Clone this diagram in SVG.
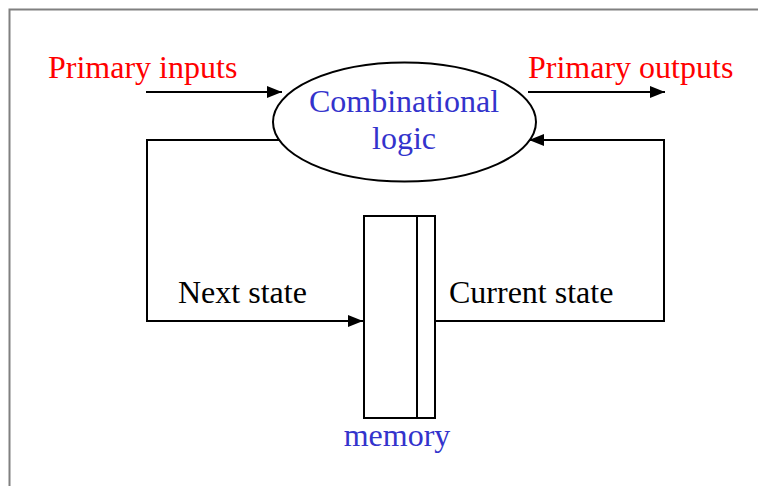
<svg xmlns="http://www.w3.org/2000/svg" width="758" height="486" viewBox="0 0 758 486">
  <defs>
    <marker id="arrow" viewBox="0 0 15 12" refX="15" refY="6" markerWidth="15" markerHeight="12" markerUnits="userSpaceOnUse" orient="auto">
      <path d="M0,0 L15,6 L0,12 Z" fill="#000"/>
    </marker>
  </defs>
  <style>
    text { font-family: "Liberation Serif", "Times New Roman", serif; font-size: 32px; }
    .red { fill: #ff0000; }
    .blue { fill: #3333cc; }
    .black { fill: #000; }
    .wire { fill: none; stroke: #000; stroke-width: 2; }
    .shape { fill: #fff; stroke: #000; stroke-width: 2; }
  </style>
  <rect x="0" y="0" width="758" height="486" fill="#fff"/>
  <!-- frame -->
  <path d="M9.5,486 V9.5 H758" fill="none" stroke="#808080" stroke-width="2"/>

  <g id="connectors">
    <line class="wire" x1="146" y1="92" x2="282" y2="92" marker-end="url(#arrow)"/>
    <line class="wire" x1="528" y1="92" x2="665" y2="92" marker-end="url(#arrow)"/>
    <polyline class="wire" points="282,140 147,140 147,321 363,321" marker-end="url(#arrow)"/>
    <polyline class="wire" points="435,321 664,321 664,140 529,140" marker-end="url(#arrow)"/>
  </g>

  <g id="logic">
    <ellipse class="shape" cx="404.5" cy="122" rx="131.5" ry="59.5"/>
    <text class="blue" x="404" y="112" text-anchor="middle">Combinational</text>
    <text class="blue" x="404" y="149" text-anchor="middle">logic</text>
  </g>

  <g id="memory">
    <rect class="shape" x="364" y="216" width="71" height="202"/>
    <line class="wire" x1="417" y1="216" x2="417" y2="418"/>
    <text class="blue" x="397" y="446" text-anchor="middle">memory</text>
  </g>

  <g id="labels">
    <text class="red" x="48" y="78">Primary inputs</text>
    <text class="red" x="528" y="78">Primary outputs</text>
    <text class="black" x="178" y="303">Next state</text>
    <text class="black" x="449" y="303">Current state</text>
  </g>
</svg>
